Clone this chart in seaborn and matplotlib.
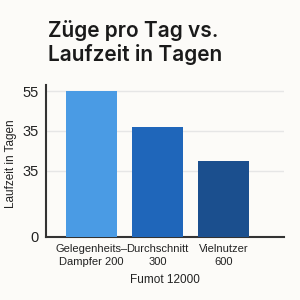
import matplotlib
matplotlib.use("Agg")
import matplotlib.pyplot as plt
import seaborn as sns
import pandas as pd

categories = ["Gelegenheits–\nDampfer 200", "Durchschnitt\n300", "Vielnutzer\n600"]
values = [55, 41.5, 28.7]
colors = ["#4a9be4", "#1f66ba", "#1b4f8e"]
tick_pos = [0, 25, 40, 55]
tick_labels = ["0", "35", "35", "55"]

sns.set_theme(style="white")
plt.rcParams['font.family'] = ['Liberation Sans', 'DejaVu Sans']

df = pd.DataFrame({"cat": categories, "val": values})
fig = plt.figure(figsize=(3, 3), dpi=100, facecolor="#fcfbf8")
ax = fig.add_axes([46/300, 1-237/300, (284-46)/300, (237-85)/300])
ax.set_facecolor("#fcfbf8")
sns.barplot(data=df, x="cat", y="val", hue="cat", palette=colors, width=0.77,
            saturation=1, edgecolor="none", linewidth=0,
            legend=False, ax=ax, zorder=3)
ax.set_xlim(-0.69, 2.92)
ax.set_ylim(0, 57.3)
ax.set_yticks(tick_pos)
ax.set_yticklabels(tick_labels, fontsize=10.5, color="#222222")
ax.tick_params(axis='x', labelsize=8, colors="#222222", length=0, pad=5)
for lbl in ax.get_xticklabels():
    lbl.set_linespacing(1.4)
ax.tick_params(axis='y', length=0, pad=5)
for y in tick_pos[1:]:
    ax.axhline(y, color="#e6e6e6", lw=1, zorder=1)
for s in ["top", "right"]:
    ax.spines[s].set_visible(False)
ax.spines["left"].set_color("#333333")
ax.spines["bottom"].set_color("#333333")
ax.spines["left"].set_linewidth(1.5)
ax.spines["bottom"].set_linewidth(1.5)
ax.set_ylabel("Laufzeit in Tagen", fontsize=8.5, color="#222222")
ax.yaxis.set_label_coords(-0.122, 0.48)
ax.set_xlabel("Fumot 12000", fontsize=8.5, color="#222222", labelpad=5)
fig.text(48/300, 1-20/300, "Züge pro Tag vs.\nLaufzeit in Tagen", fontsize=15,
         fontweight="semibold", family=["Inter", "DejaVu Sans"],
         color="#1a1a1a", ha="left", va="top", linespacing=1.15)
fig.savefig("out.png", dpi=100, facecolor=fig.get_facecolor())
